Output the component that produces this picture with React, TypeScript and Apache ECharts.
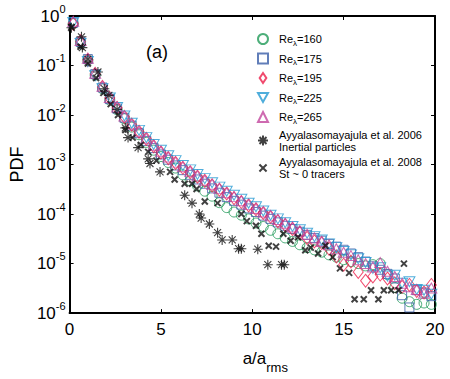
import React, { useEffect, useRef } from "react";
import * as echarts from "echarts";

const FONT = '"Liberation Sans", Arial, Helvetica, sans-serif';

// a/a_rms positions of the Re_lambda series
const X_VALUES = [
  0.2, 0.6, 1.0, 1.4, 1.8, 2.2, 2.6, 3.0, 3.4, 3.8,
  4.2, 4.6, 5.0, 5.4, 5.8, 6.2, 6.6, 7.0, 7.4, 7.8,
  8.2, 8.6, 9.0, 9.4, 9.8, 10.2, 10.6, 11.0, 11.4, 11.8,
  12.2, 12.6, 13.0, 13.4, 13.8, 14.2, 14.6, 15.0, 15.4, 15.8,
  16.2, 16.6, 17.0, 17.4, 17.8, 18.2, 18.6, 19.0, 19.4, 19.8,
];

const RE160 = [
  7.0e-1, 2.9e-1, 1.28e-1, 6.4e-2, 3.4e-2, 2.0e-2, 1.28e-2, 8.4e-3, 5.7e-3, 4.0e-3,
  2.8e-3, 1.95e-3, 1.45e-3, 1.1e-3, 8.5e-4, 6.2e-4, 4.7e-4, 3.7e-4, 2.9e-4, 2.3e-4,
  1.7e-4, 1.35e-4, 1.1e-4, 9.5e-5, 8.0e-5, 6.6e-5, 5.6e-5, 4.7e-5, 4.0e-5, 3.3e-5,
  2.8e-5, 2.4e-5, 2.1e-5, 1.9e-5, 1.7e-5, 1.5e-5, 1.35e-5, 1.2e-5, 1.1e-5, 1.0e-5,
  9.0e-6, 9.5e-6, 1.0e-5, 6.0e-6, 3.3e-6, 2.0e-6, 1.7e-6, 1.5e-6, 1.6e-6, 1.5e-6,
];
const RE175 = [
  7.3e-1, 3.0e-1, 1.35e-1, 6.7e-2, 3.6e-2, 2.1e-2, 1.35e-2, 8.8e-3, 6.1e-3, 4.3e-3,
  3.0e-3, 2.15e-3, 1.6e-3, 1.25e-3, 9.6e-4, 7.7e-4, 6.2e-4, 5.0e-4, 4.1e-4, 3.3e-4,
  2.7e-4, 2.2e-4, 1.85e-4, 1.55e-4, 1.3e-4, 1.1e-4, 9.3e-5, 8.0e-5, 6.8e-5, 5.8e-5,
  5.0e-5, 4.4e-5, 3.8e-5, 3.3e-5, 2.9e-5, 2.5e-5, 2.2e-5, 1.9e-5, 1.6e-5, 1.35e-5,
  1.1e-5, 8.8e-6, 7.5e-6, 6.2e-6, 5.0e-6, 2.3e-6, 1.3e-6, 2.9e-6, 2.6e-6, 2.2e-6,
];
const RE195 = [
  7.0e-1, 3.1e-1, 1.3e-1, 6.8e-2, 3.7e-2, 2.2e-2, 1.4e-2, 9.2e-3, 6.4e-3, 4.6e-3,
  3.3e-3, 2.35e-3, 1.75e-3, 1.35e-3, 1.08e-3, 8.6e-4, 7.0e-4, 5.7e-4, 4.7e-4, 3.8e-4,
  3.1e-4, 2.6e-4, 2.1e-4, 1.75e-4, 1.5e-4, 1.25e-4, 1.05e-4, 8.8e-5, 7.2e-5, 6.0e-5,
  5.0e-5, 4.2e-5, 3.3e-5, 2.8e-5, 2.6e-5, 2.0e-5, 1.4e-5, 9.5e-6, 1.1e-5, 6.8e-6,
  4.5e-6, 5.5e-6, 6.0e-6, 5.0e-6, 4.0e-6, 3.4e-6, 3.7e-6, 2.8e-6, 2.6e-6, 3.7e-6,
];
const RE225 = [
  7.4e-1, 2.8e-1, 1.2e-1, 6.2e-2, 3.4e-2, 2.2e-2, 1.42e-2, 9.6e-3, 6.8e-3, 4.9e-3,
  3.5e-3, 2.55e-3, 1.95e-3, 1.5e-3, 1.2e-3, 9.6e-4, 7.8e-4, 6.3e-4, 5.2e-4, 4.3e-4,
  3.5e-4, 2.9e-4, 2.4e-4, 2.0e-4, 1.65e-4, 1.4e-4, 1.15e-4, 9.5e-5, 8.0e-5, 6.7e-5,
  5.6e-5, 4.8e-5, 4.1e-5, 3.5e-5, 3.0e-5, 2.5e-5, 2.1e-5, 1.75e-5, 1.5e-5, 1.25e-5,
  1.05e-5, 8.0e-6, 8.2e-6, 5.6e-6, 5.8e-6, 4.0e-6, 4.3e-6, 3.0e-6, 2.9e-6, 2.4e-6,
];
const RE265 = [
  7.8e-1, 3.2e-1, 1.4e-1, 7.0e-2, 3.8e-2, 2.25e-2, 1.45e-2, 9.5e-3, 6.6e-3, 4.7e-3,
  3.4e-3, 2.45e-3, 1.85e-3, 1.42e-3, 1.12e-3, 9.0e-4, 7.3e-4, 5.9e-4, 4.8e-4, 4.0e-4,
  3.3e-4, 2.7e-4, 2.25e-4, 1.85e-4, 1.55e-4, 1.3e-4, 1.1e-4, 9.2e-5, 7.8e-5, 6.5e-5,
  5.5e-5, 4.6e-5, 3.9e-5, 3.3e-5, 2.8e-5, 2.4e-5, 2.0e-5, 1.7e-5, 1.45e-5, 1.2e-5,
  1.0e-5, 8.5e-6, 1.05e-5, 7.0e-6, 5.5e-6, 4.0e-6, 3.4e-6, 3.0e-6, 2.5e-6, 3.2e-6,
];

// Ayyalasomayajula et al. 2006, inertial particles: [a/a_rms, PDF]
const AYYA2006 = [
  [0.1, 5.8e-1], [0.65, 3.8e-1], [0.7, 2.3e-1], [1.0, 1.35e-1], [1.55, 7.4e-2],
  [1.9, 3.4e-2], [2.15, 2.5e-2], [2.6, 1.3e-2], [3.05, 5.5e-3], [3.2, 3.5e-3],
  [3.75, 2.2e-3], [4.3, 1.3e-3], [4.4, 1.05e-3], [4.95, 7.1e-4], [6.3, 2.4e-4],
  [6.7, 1.66e-4], [7.1, 1.0e-4], [7.2, 8.3e-5], [7.65, 6.3e-5], [8.1, 4.2e-5],
  [8.35, 3.0e-5], [8.9, 3.0e-5], [9.25, 2.0e-5], [9.4, 2.0e-5], [10.3, 1.95e-5],
  [10.85, 9.5e-6], [11.6, 9.5e-6], [11.75, 9.5e-6],
];

// Ayyalasomayajula et al. 2008, St ~ 0 tracers: [a/a_rms, PDF]
const AYYA2008 = [
  [0.1, 6.0e-1], [0.6, 2.4e-1], [1.0, 1.1e-1], [1.45, 5.6e-2], [1.85, 2.8e-2],
  [2.25, 1.66e-2], [2.65, 1.0e-2], [3.05, 5.0e-3], [3.45, 3.5e-3], [3.9, 2.5e-3],
  [4.3, 1.8e-3], [4.75, 1.2e-3], [5.5, 7.1e-4], [5.75, 5.0e-4], [6.3, 4.1e-4],
  [6.7, 4.1e-4], [6.95, 3.2e-4], [7.4, 1.8e-4], [8.1, 1.66e-4], [9.4, 1.0e-4],
  [9.7, 7.2e-5], [10.2, 5.8e-5], [10.5, 4.0e-5], [10.9, 2.3e-5], [11.3, 2.2e-5],
  [11.7, 4.0e-5], [12.1, 2.9e-5], [12.5, 3.4e-5], [12.9, 1.86e-5], [13.2, 2.1e-5],
  [13.6, 1.6e-5], [14.0, 2.3e-5], [14.4, 1.35e-5], [14.8, 8.0e-6], [15.3, 6.5e-6],
  [15.6, 1.9e-6], [16.1, 1.9e-6], [16.5, 2.9e-6], [16.9, 1.9e-6], [17.2, 2.9e-6],
  [17.6, 2.9e-6], [18.0, 2.9e-6], [18.3, 1.0e-5],
];

const X_TICKS = [0, 5, 10, 15, 20];

const NAMES = [
  "Reλ=160",
  "Reλ=175",
  "Reλ=195",
  "Reλ=225",
  "Reλ=265",
  "Ayyalasomayajula et al. 2006\nInertial particles",
  "Ayyalasomayajula et al. 2008\nSt ~ 0 tracers",
];

const ASTERISK = "path://M5,0L5,10M0,5L10,5M1.5,1.5L8.5,8.5M1.5,8.5L8.5,1.5";
const XMARK = "path://M0,0L10,10M0,10L10,0";
// legend keys
const XMARK_KEY = "path://M-2,-2L-2,-2M0,0L10,10M0,10L10,0M12,12L12,12";
const DOWN_TRI_KEY = "path://M0,0L11,0L5.5,10Z";
const DIAMOND_KEY = "path://M4,0L8,6L4,12L0,6Z";

const HOLLOW = "rgba(0,0,0,0)";

function pairs(vals: number[]) {
  return X_VALUES.map((x, i) => [x, vals[i]]);
}

function makeOption() {
  const axisLine = { show: true, onZero: false, lineStyle: { color: "#000", width: 2 } };
  const axisTick = { show: true, inside: true, length: 4, lineStyle: { color: "#000", width: 1 } };
  const colored = [
    { vals: RE160, symbol: "circle", size: 10, color: "#1f9a57", rot: 0 },
    { vals: RE175, symbol: "rect", size: 9, color: "#3a5ea8", rot: 0 },
    { vals: RE195, symbol: "diamond", size: [10, 13], color: "#ec1e4a", rot: 0 },
    { vals: RE225, symbol: "triangle", size: [11, 10], color: "#2398d2", rot: 180 },
    { vals: RE265, symbol: "triangle", size: [11, 10], color: "#c2459c", rot: 0 },
  ];
  const series: any[] = colored.map((c, i) => ({
    type: "scatter",
    name: NAMES[i],
    data: pairs(c.vals),
    symbol: c.symbol,
    symbolSize: c.size,
    symbolRotate: c.rot,
    itemStyle: { color: HOLLOW, borderColor: c.color, borderWidth: 1 },
  }));
  series.push({
    type: "scatter",
    name: NAMES[5],
    data: AYYA2006,
    symbol: ASTERISK,
    symbolSize: 10,
    itemStyle: { color: HOLLOW, borderColor: "#111", borderWidth: 1.1 },
  });
  series.push({
    type: "scatter",
    name: NAMES[6],
    data: AYYA2008,
    symbol: XMARK,
    symbolSize: 6,
    itemStyle: { color: HOLLOW, borderColor: "#111", borderWidth: 2 },
  });

  const legendData = NAMES.map((n, i) => {
    if (i === 2) return { name: n, icon: DIAMOND_KEY };
    if (i === 3) return { name: n, icon: DOWN_TRI_KEY };
    if (i === 6) return { name: n, icon: XMARK_KEY };
    return { name: n };
  });

  return {
    animation: false,
    backgroundColor: "#fff",
    textStyle: { fontFamily: FONT },
    grid: { left: 63, right: 15, top: 16, bottom: 60, containLabel: false },
    graphic: [
      {
        type: "text",
        x: 157,
        y: 52,
        style: {
          text: "(a)",
          fontSize: 18,
          fontFamily: FONT,
          fill: "#000",
          align: "center",
          verticalAlign: "middle",
        },
      },
    ],
    legend: {
      orient: "vertical",
      left: 252,
      top: 26,
      itemWidth: 10,
      itemHeight: 10,
      itemGap: 3.5,
      selectedMode: false,
      data: legendData,
      formatter: (name: string) => {
        if (name.startsWith("Re")) {
          return `{r|Re}{s|λ}{r|=${name.split("=")[1]}}`;
        }
        return name;
      },
      textStyle: {
        fontSize: 11,
        lineHeight: 12,
        fontFamily: FONT,
        color: "#000",
        padding: [0, 0, 0, 6],
        rich: {
          r: { fontSize: 11, lineHeight: 12, fontFamily: FONT, color: "#000" },
          s: { fontSize: 8, lineHeight: 8, padding: [8, 0, 0, 0], fontFamily: FONT, color: "#000" },
        },
      },
    },
    xAxis: [
      {
        type: "value",
        min: X_TICKS[0],
        max: X_TICKS[X_TICKS.length - 1],
        interval: X_TICKS[1] - X_TICKS[0],
        position: "bottom",
        axisLine,
        axisTick,
        splitLine: { show: false },
        axisLabel: { color: "#000", fontSize: 17, fontFamily: FONT, margin: 8 },
        name: "{a|a/a}{r|rms}",
        nameLocation: "middle",
        nameGap: 26,
        nameTextStyle: {
          padding: [0, 0, 0, 26],
          rich: {
            a: { fontSize: 17, lineHeight: 17, fontFamily: FONT, color: "#000" },
            r: { fontSize: 13, lineHeight: 13, padding: [18, 0, 0, 0], fontFamily: FONT, color: "#000" },
          },
        },
      },
      {
        type: "value",
        min: X_TICKS[0],
        max: X_TICKS[X_TICKS.length - 1],
        interval: X_TICKS[1] - X_TICKS[0],
        position: "top",
        axisLine,
        axisTick,
        splitLine: { show: false },
        axisLabel: { show: false },
      },
    ],
    yAxis: [
      {
        type: "log",
        logBase: 10,
        min: 1e-6,
        max: 1,
        splitNumber: 6,
        position: "left",
        axisLine,
        axisTick,
        splitLine: { show: false },
        axisLabel: {
          margin: 4,
          formatter: (v: number) => `{b|10}{s|${Math.round(Math.log10(v))}}`,
          rich: {
            b: { fontSize: 17, lineHeight: 17, fontFamily: FONT, color: "#000" },
            s: { fontSize: 11, lineHeight: 11, padding: [0, 0, 15, 0], fontFamily: FONT, color: "#000" },
          },
        },
        name: "PDF",
        nameLocation: "middle",
        nameGap: 42,
        nameTextStyle: { fontSize: 18, fontFamily: FONT, color: "#000" },
      },
      {
        type: "log",
        logBase: 10,
        min: 1e-6,
        max: 1,
        splitNumber: 6,
        position: "right",
        axisLine,
        axisTick,
        splitLine: { show: false },
        axisLabel: { show: false },
      },
    ],
    series,
  };
}

export default function App() {
  const ref = useRef<HTMLDivElement>(null);
  useEffect(() => {
    document.body.style.margin = "0";
    const chart = echarts.init(ref.current as HTMLDivElement, null, { renderer: "svg" });
    chart.setOption(makeOption() as any);
    return () => chart.dispose();
  }, []);
  return <div ref={ref} style={{ width: 450, height: 379 }} />;
}
